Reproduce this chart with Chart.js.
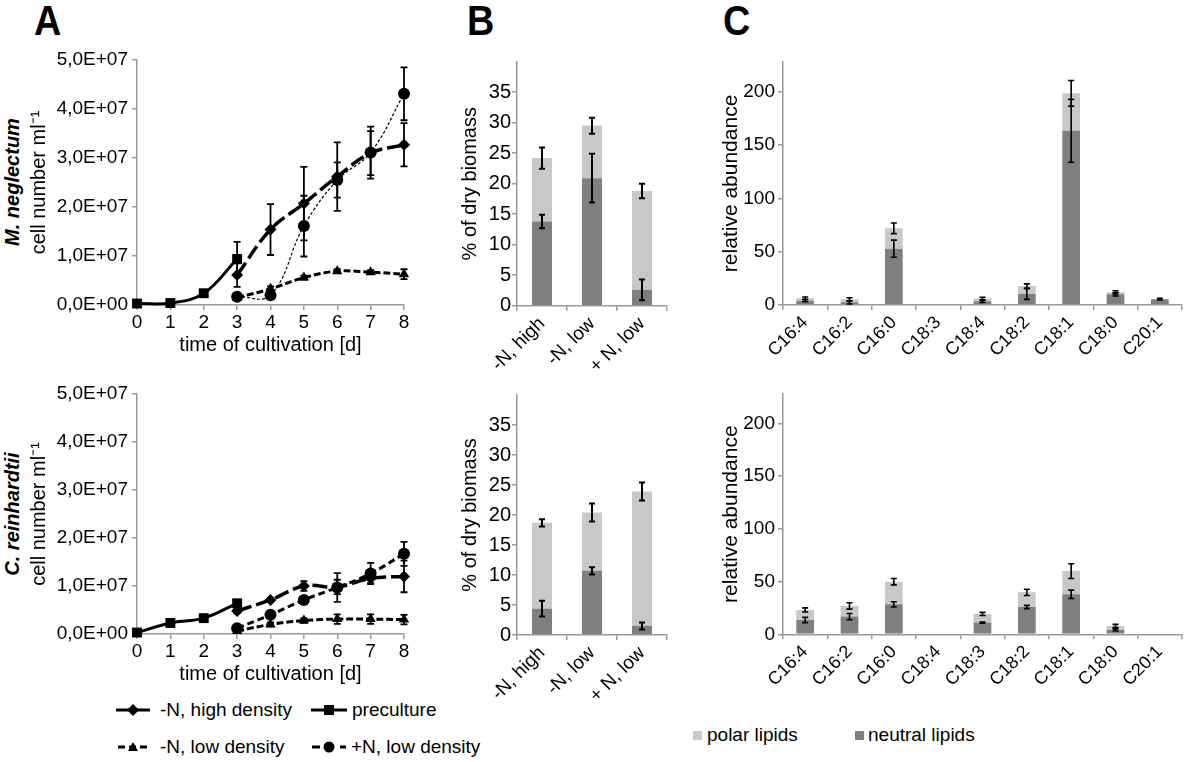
<!DOCTYPE html>
<html>
<head>
<meta charset="utf-8">
<script src="https://cdn.jsdelivr.net/npm/chart.js@4.4.1/dist/chart.umd.min.js"></script>
<style>
  body { margin: 0; background: #fff; font-family: "Liberation Sans", Arial, sans-serif; color: #000; }
  #wrap { position: relative; width: 1200px; height: 762px; overflow: hidden; }
  canvas { position: absolute; }
  .letter { position: absolute; top: 0; font-weight: bold; font-size: 42px; line-height: 42px; transform: scaleX(0.9); transform-origin: left top; }
  .species { position: absolute; width: 220px; height: 24px; line-height: 24px; text-align: center; font-size: 20px; font-weight: bold; font-style: italic; transform: rotate(-90deg); }
  .leg { position: absolute; font-size: 19px; line-height: 22px; white-space: nowrap; }
  .mk { position: absolute; }
  .sw { position: absolute; width: 9px; height: 9px; }
</style>
</head>
<body>
<div id="wrap">
  <div class="letter" style="left:34px">A</div>
  <div class="letter" style="left:467px">B</div>
  <div class="letter" style="left:723px">C</div>

  <div class="species" style="left:-98px;top:170px">M. neglectum</div>
  <div class="species" style="left:-98px;top:502px">C. reinhardtii</div>

  <canvas id="aTop" width="420" height="320" style="left:0;top:40px"></canvas>
  <canvas id="aBot" width="420" height="315" style="left:0;top:374px"></canvas>
  <canvas id="bTop" width="240" height="335" style="left:440px;top:40px"></canvas>
  <canvas id="bBot" width="240" height="335" style="left:440px;top:373px"></canvas>
  <canvas id="cTop" width="505" height="335" style="left:690px;top:40px"></canvas>
  <canvas id="cBot" width="505" height="335" style="left:690px;top:373px"></canvas>

  <!-- legend, panel A -->
  <svg class="mk" style="left:116px;top:703px" width="34" height="14">
    <line x1="0" y1="7" x2="34" y2="7" stroke="#000" stroke-width="3"/>
    <polygon points="17,1 23,7 17,13 11,7" fill="#000"/>
  </svg>
  <div class="leg" style="left:160px;top:699px">-N, high density</div>
  <svg class="mk" style="left:311px;top:703px" width="36" height="14">
    <line x1="0" y1="7" x2="36" y2="7" stroke="#000" stroke-width="3"/>
    <rect x="13" y="2" width="10" height="10" fill="#000"/>
  </svg>
  <div class="leg" style="left:352px;top:699px">preculture</div>
  <svg class="mk" style="left:118px;top:740px" width="30" height="14">
    <line x1="0" y1="7" x2="30" y2="7" stroke="#000" stroke-width="3" stroke-dasharray="7 4"/>
    <polygon points="15,2 20,11 10,11" fill="#000"/>
  </svg>
  <div class="leg" style="left:160px;top:736px">-N, low density</div>
  <svg class="mk" style="left:312px;top:740px" width="34" height="14">
    <line x1="0" y1="7" x2="34" y2="7" stroke="#000" stroke-width="3" stroke-dasharray="8 6"/>
    <circle cx="17" cy="7" r="5.5" fill="#000"/>
  </svg>
  <div class="leg" style="left:351px;top:736px">+N, low density</div>

  <!-- legend, panels B and C -->
  <div class="sw" style="left:693px;top:731px;background:#c8c8c8"></div>
  <div class="leg" style="left:707px;top:724px">polar lipids</div>
  <div class="sw" style="left:855px;top:731px;background:#7f7f7f"></div>
  <div class="leg" style="left:868px;top:724px">neutral lipids</div>
</div>

<script>
Chart.defaults.font.family = '"Liberation Sans", Arial, sans-serif';
Chart.defaults.color = '#000';

// ---- panel A: cell number per ml ----
const dayTicks = [0, 1, 2, 3, 4, 5, 6, 7, 8];
const preDays = [0, 1, 2, 3];
const nDays = [3, 4, 5, 6, 7, 8];

// M. neglectum
const mnPre = [0.03e7, 0.04e7, 0.24e7, 0.94e7];
const mnPreErr = [0.02e7, 0.02e7, 0.03e7, 0.35e7];
const mnHigh = [0.61e7, 1.54e7, 2.07e7, 2.62e7, 3.1e7, 3.27e7];
const mnHighErr = [0.24e7, 0.52e7, 0.75e7, 0.7e7, 0.45e7, 0.44e7];
const mnLow = [0.15e7, 0.33e7, 0.56e7, 0.69e7, 0.67e7, 0.63e7];
const mnLowErr = [0.05e7, 0.05e7, 0.04e7, 0.04e7, 0.04e7, 0.1e7];
const mnPlus = [0.17e7, 0.2e7, 1.61e7, 2.55e7, 3.11e7, 4.31e7];
const mnPlusErr = [0.05e7, 0.05e7, 0.62e7, 0.36e7, 0.53e7, 0.54e7];

// C. reinhardtii
const crPre = [0.03e7, 0.23e7, 0.33e7, 0.64e7];
const crPreErr = [0.02e7, 0.03e7, 0.03e7, 0.06e7];
const crHigh = [0.48e7, 0.71e7, 1.0e7, 0.98e7, 1.16e7, 1.2e7];
const crHighErr = [0.05e7, 0.04e7, 0.1e7, 0.15e7, 0.1e7, 0.33e7];
const crLow = [0.06e7, 0.2e7, 0.28e7, 0.31e7, 0.31e7, 0.3e7];
const crLowErr = [0.03e7, 0.04e7, 0.05e7, 0.1e7, 0.1e7, 0.1e7];
const crPlus = [0.12e7, 0.4e7, 0.71e7, 0.97e7, 1.26e7, 1.67e7];
const crPlusErr = [0.05e7, 0.05e7, 0.05e7, 0.3e7, 0.22e7, 0.25e7];

// ---- panel B: lipid content, % of dry biomass ----
const bLabels = ['-N, high', '-N, low', '+ N, low'];
const mnNeutralB = [13.8, 20.9, 2.6];
const mnNeutralBErr = [1.1, 4.0, 1.7];
const mnPolarB = [10.4, 8.6, 16.2];
const mnTotalBErr = [1.75, 1.3, 1.2];
const crNeutralB = [4.4, 10.7, 1.5];
const crNeutralBErr = [1.3, 0.6, 0.6];
const crPolarB = [14.3, 9.7, 22.4];
const crTotalBErr = [0.6, 1.5, 1.5];

// ---- panel C: fatty acids, relative abundance ----
const mnFaLabels = ['C16:4', 'C16:2', 'C16:0', 'C18:3', 'C18:4', 'C18:2', 'C18:1', 'C18:0', 'C20:1'];
const mnNeutralC = [4, 2.5, 52.8, 0, 3.5, 10.3, 163.3, 10, 5.5];
const mnNeutralCErr = [1, 1.5, 8, 0, 1, 5, 29.5, 1.5, 0.8];
const mnPolarC = [2.3, 2.8, 19.1, 0, 2.5, 7.5, 35.1, 1.9, 0];
const mnTotalCErr = [1.2, 1.5, 5, 0, 1.2, 2, 12, 1.5, 0];

const crFaLabels = ['C16:4', 'C16:2', 'C16:0', 'C18:4', 'C18:3', 'C18:2', 'C18:1', 'C18:0', 'C20:1'];
const crNeutralC = [13.6, 16.8, 28.4, 0, 11.1, 25.9, 37.9, 4.1, 0];
const crNeutralCErr = [2.5, 3, 2.5, 0, 0.5, 1.5, 4, 1, 0];
const crPolarC = [9.5, 10.1, 21.5, 0, 8.2, 13.9, 22.1, 3.8, 0];
const crTotalCErr = [2, 3, 3, 0, 1.5, 3, 7, 1.5, 0];

const axisGray = '#9a9a9a';
const polarColor = '#c8c8c8';
const neutralColor = '#7f7f7f';

// draws +/- error bars on top of each point / bar
const errorBars = {
  id: 'errorBars',
  afterDatasetsDraw(chart, args, opts) {
    const ctx = chart.ctx;
    const y = chart.scales.y;
    chart.data.datasets.forEach((ds, i) => {
      if (!ds.errors) return;
      chart.getDatasetMeta(i).data.forEach((el, j) => {
        const err = ds.errors[j];
        if (!err) return;
        const d = Math.abs(y.getPixelForValue(0) - y.getPixelForValue(err));
        ctx.save();
        ctx.strokeStyle = '#000';
        ctx.lineWidth = opts.width;
        ctx.beginPath();
        ctx.moveTo(el.x, el.y - d);
        ctx.lineTo(el.x, el.y + d);
        ctx.moveTo(el.x - opts.cap, el.y - d);
        ctx.lineTo(el.x + opts.cap, el.y - d);
        ctx.moveTo(el.x - opts.cap, el.y + d);
        ctx.lineTo(el.x + opts.cap, el.y + d);
        ctx.stroke();
        ctx.restore();
      });
    });
  }
};

function fmtSci(v) {
  if (v === 0) return '0,0E+00';
  return (v / 1e7).toFixed(1).replace('.', ',') + 'E+07';
}

function series(label, xs, ys, errs, style) {
  return Object.assign({
    label: label,
    data: xs.map((x, i) => ({ x: x, y: ys[i] })),
    errors: errs,
    borderColor: '#000',
    backgroundColor: '#000',
    pointBackgroundColor: '#000',
    pointBorderWidth: 0,
    tension: 0.4,
    clip: false
  }, style);
}

const sHigh = { borderWidth: 3.5, borderDash: [15, 5], pointStyle: 'rectRot', pointRadius: 6 };
const sPre = { borderWidth: 3, pointStyle: 'rect', pointRadius: 7 };
const sLow = { borderWidth: 3, borderDash: [7, 3], pointStyle: 'triangle', pointRadius: 6 };
const sPlusThin = { borderWidth: 1.2, borderDash: [3, 2], pointStyle: 'circle', pointRadius: 6 };
const sPlus = { borderWidth: 3, borderDash: [7, 4], pointStyle: 'circle', pointRadius: 6 };

function cellChart(id, sets, padTop) {
  return new Chart(document.getElementById(id), {
    type: 'line',
    data: { datasets: sets },
    options: {
      responsive: false,
      animation: false,
      layout: { padding: { top: padTop, right: 16, left: 0, bottom: 0 } },
      plugins: {
        legend: { display: false },
        tooltip: { enabled: false },
        errorBars: { width: 1.8, cap: 3.5 }
      },
      scales: {
        x: {
          type: 'linear', min: 0, max: 8,
          afterBuildTicks: s => { s.ticks = dayTicks.map(v => ({ value: v })); },
          ticks: { color: '#000', font: { size: 19 }, padding: 1, maxRotation: 0 },
          grid: { drawOnChartArea: false, tickLength: 5, color: axisGray, lineWidth: 1.5 },
          border: { color: axisGray, width: 1.5 },
          title: { display: true, text: 'time of cultivation [d]', color: '#000', font: { size: 20 }, padding: { top: 0, bottom: 3 } },
          afterFit: s => { s.height = 55; }
        },
        y: {
          min: 0, max: 5e7,
          ticks: { stepSize: 1e7, color: '#000', font: { size: 19 }, padding: 4, callback: fmtSci },
          grid: { drawOnChartArea: false, tickLength: 5, color: axisGray, lineWidth: 1.5 },
          border: { color: axisGray, width: 1.5 },
          title: { display: true, text: 'cell number ml\u207B\u00B9', color: '#000', font: { size: 20 }, padding: { top: 27, bottom: 0 } },
          afterFit: s => { s.width = 137; }
        }
      }
    },
    plugins: [errorBars]
  });
}

function lipidChart(id, cfg) {
  return new Chart(document.getElementById(id), {
    type: 'bar',
    data: {
      labels: cfg.labels,
      datasets: [
        { label: 'neutral lipids', data: cfg.neutral, errors: cfg.neutralErr, backgroundColor: neutralColor, barPercentage: 0.4, categoryPercentage: 1 },
        { label: 'polar lipids', data: cfg.polar, errors: cfg.totalErr, backgroundColor: polarColor, barPercentage: 0.4, categoryPercentage: 1 }
      ]
    },
    options: {
      responsive: false,
      animation: false,
      layout: { padding: { top: cfg.padTop, right: 13, left: 0, bottom: 0 } },
      plugins: {
        legend: { display: false },
        tooltip: { enabled: false },
        errorBars: { width: cfg.errWidth, cap: 3 }
      },
      scales: {
        x: {
          stacked: true,
          ticks: { color: '#000', font: { size: cfg.xFont }, padding: 2, minRotation: 45, maxRotation: 45, autoSkip: false },
          grid: { drawOnChartArea: false, tickLength: 5, color: axisGray, lineWidth: 1.5 },
          border: { color: axisGray, width: 1.5 },
          afterFit: s => { s.height = cfg.xHeight; }
        },
        y: {
          stacked: true, min: 0, max: cfg.max,
          afterBuildTicks: s => { s.ticks = s.ticks.filter(t => t.value % cfg.step === 0 && t.value <= cfg.lastTick); },
          ticks: { stepSize: cfg.step, color: '#000', font: { size: cfg.yFont }, padding: cfg.yPad },
          grid: { drawOnChartArea: false, tickLength: 5, color: axisGray, lineWidth: 1.5 },
          border: { color: axisGray, width: 1.5 },
          title: { display: true, text: cfg.title, color: '#000', font: { size: cfg.titleFont }, padding: { top: cfg.titlePad, bottom: 0 } },
          afterFit: s => { s.width = cfg.yWidth; }
        }
      }
    },
    plugins: [errorBars]
  });
}

cellChart('aTop', [
  series('-N, high density', nDays, mnHigh, mnHighErr, sHigh),
  series('preculture', preDays, mnPre, mnPreErr, sPre),
  series('-N, low density', nDays, mnLow, mnLowErr, sLow),
  series('+N, low density', nDays, mnPlus, mnPlusErr, sPlusThin)
], 20);

cellChart('aBot', [
  series('-N, high density', nDays, crHigh, crHighErr, sHigh),
  series('preculture', preDays, crPre, crPreErr, sPre),
  series('-N, low density', nDays, crLow, crLowErr, sLow),
  series('+N, low density', nDays, crPlus, crPlusErr, sPlus)
], 20);

const bCommon = {
  labels: bLabels, max: 40, step: 5, lastTick: 35, xFont: 19, yFont: 20, yPad: 1,
  title: '% of dry biomass', titleFont: 20, titlePad: 18, yWidth: 77, errWidth: 2
};
lipidChart('bTop', Object.assign({}, bCommon, {
  neutral: mnNeutralB, neutralErr: mnNeutralBErr, polar: mnPolarB, totalErr: mnTotalBErr,
  padTop: 21.7, xHeight: 69.3
}));
lipidChart('bBot', Object.assign({}, bCommon, {
  neutral: crNeutralB, neutralErr: crNeutralBErr, polar: crPolarB, totalErr: crTotalBErr,
  padTop: 22, xHeight: 73
}));

const cCommon = {
  max: 228, step: 50, lastTick: 200, xFont: 18, yFont: 19, yPad: 3,
  title: 'relative abundance', titleFont: 21, titlePad: 29, yWidth: 93, errWidth: 1.6
};
lipidChart('cTop', Object.assign({}, cCommon, {
  labels: mnFaLabels, neutral: mnNeutralC, neutralErr: mnNeutralCErr, polar: mnPolarC, totalErr: mnTotalCErr,
  padTop: 21.8, xHeight: 70
}));
lipidChart('cBot', Object.assign({}, cCommon, {
  labels: crFaLabels, neutral: crNeutralC, neutralErr: crNeutralCErr, polar: crPolarC, totalErr: crTotalCErr,
  padTop: 21, xHeight: 73.7
}));
</script>
</body>
</html>
